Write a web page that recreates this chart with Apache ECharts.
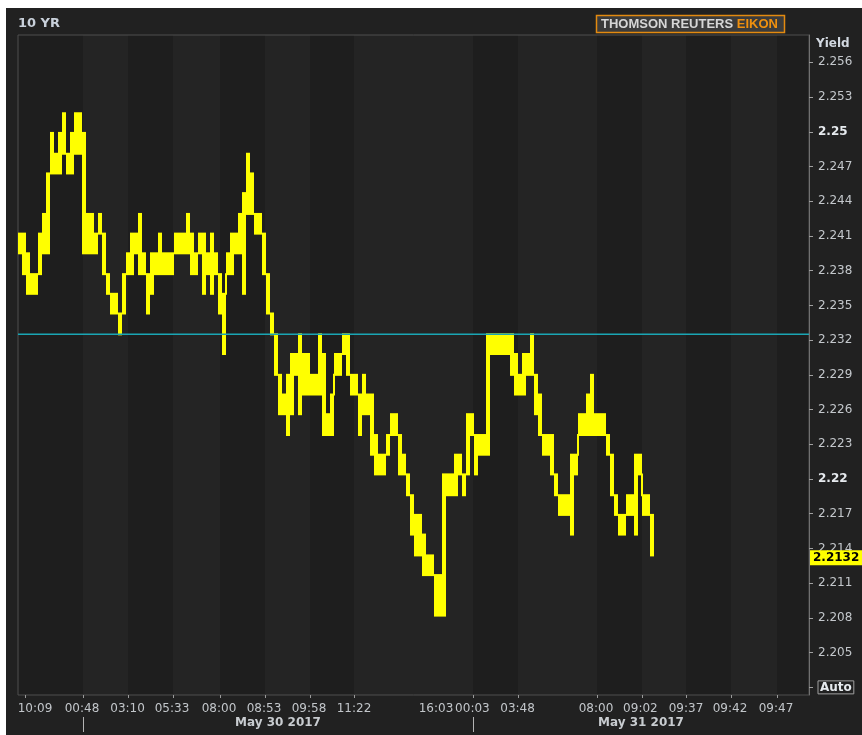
<!DOCTYPE html>
<html><head><meta charset="utf-8">
<script src="https://cdn.jsdelivr.net/npm/echarts@6/dist/echarts.min.js"></script>
<style>html,body{margin:0;padding:0;background:#fff}#c{width:862px;height:735px}</style>
</head><body><div id="c"></div>
<script>
// 10 YR yield, per trade bin: highest and lowest yield printed in the bin
const yieldHi = [
2.2412,2.2412,2.2395,2.2377,2.2377,2.2412,2.2429,2.2464,2.2499,2.2481,
2.2499,2.2516,2.2481,2.2499,2.2516,2.2516,2.2499,2.2429,2.2429,2.2412,
2.2429,2.2412,2.2377,2.2360,2.2360,2.2343,2.2377,2.2395,2.2412,2.2412,
2.2429,2.2395,2.2377,2.2395,2.2395,2.2412,2.2395,2.2395,2.2395,2.2412,
2.2412,2.2412,2.2429,2.2412,2.2395,2.2412,2.2412,2.2395,2.2412,2.2395,
2.2377,2.2360,2.2395,2.2412,2.2412,2.2429,2.2447,2.2481,2.2464,2.2429,
2.2429,2.2412,2.2377,2.2343,2.2325,2.2290,2.2273,2.2290,2.2308,2.2308,
2.2325,2.2308,2.2308,2.2290,2.2290,2.2325,2.2308,2.2256,2.2273,2.2308,
2.2308,2.2325,2.2325,2.2290,2.2290,2.2273,2.2290,2.2273,2.2273,2.2238,
2.2221,2.2221,2.2238,2.2256,2.2256,2.2238,2.2221,2.2204,2.2186,2.2169,
2.2169,2.2152,2.2134,2.2134,2.2117,2.2117,2.2204,2.2204,2.2204,2.2221,
2.2221,2.2204,2.2256,2.2256,2.2238,2.2238,2.2238,2.2325,2.2325,2.2325,
2.2325,2.2325,2.2325,2.2325,2.2308,2.2290,2.2308,2.2308,2.2325,2.2290,
2.2273,2.2238,2.2238,2.2238,2.2204,2.2186,2.2186,2.2186,2.2221,2.2221,
2.2256,2.2256,2.2273,2.2290,2.2256,2.2256,2.2256,2.2238,2.2221,2.2186,
2.2169,2.2169,2.2186,2.2186,2.2221,2.2221,2.2186,2.2186,2.2169
];
const yieldLo = [
2.2395,2.2377,2.2360,2.2360,2.2360,2.2377,2.2395,2.2395,2.2464,2.2464,
2.2464,2.2481,2.2464,2.2464,2.2481,2.2481,2.2395,2.2395,2.2395,2.2395,
2.2412,2.2377,2.2360,2.2343,2.2343,2.2325,2.2343,2.2377,2.2377,2.2395,
2.2377,2.2377,2.2343,2.2360,2.2377,2.2377,2.2377,2.2377,2.2377,2.2395,
2.2395,2.2395,2.2395,2.2377,2.2377,2.2395,2.2360,2.2377,2.2360,2.2377,
2.2343,2.2308,2.2377,2.2377,2.2395,2.2395,2.2360,2.2429,2.2429,2.2412,
2.2412,2.2377,2.2343,2.2325,2.2290,2.2256,2.2256,2.2238,2.2256,2.2290,
2.2256,2.2273,2.2273,2.2273,2.2273,2.2273,2.2238,2.2238,2.2238,2.2290,
2.2290,2.2308,2.2290,2.2273,2.2273,2.2238,2.2256,2.2256,2.2221,2.2204,
2.2204,2.2204,2.2221,2.2238,2.2238,2.2204,2.2204,2.2186,2.2152,2.2134,
2.2134,2.2117,2.2117,2.2117,2.2082,2.2082,2.2082,2.2186,2.2186,2.2186,
2.2204,2.2186,2.2204,2.2238,2.2204,2.2221,2.2221,2.2221,2.2308,2.2308,
2.2308,2.2308,2.2308,2.2290,2.2273,2.2273,2.2273,2.2290,2.2290,2.2256,
2.2238,2.2221,2.2221,2.2204,2.2186,2.2169,2.2169,2.2169,2.2152,2.2204,
2.2238,2.2238,2.2238,2.2238,2.2238,2.2238,2.2238,2.2221,2.2186,2.2169,
2.2152,2.2152,2.2169,2.2169,2.2152,2.2204,2.2169,2.2169,2.2134
];
const prevClose = 2.2325;
const lastYield = 2.2132;
const lastYieldLabel = '2.2132';

const yTickValues = [2.202,2.205,2.208,2.211,2.214,2.217,2.220,2.223,2.226,2.229,2.232,2.235,2.238,2.241,2.244,2.247,2.250,2.253,2.256];
const yTickLabels = ['Auto','2.205','2.208','2.211','2.214','2.217','2.22','2.223','2.226','2.229','2.232','2.235','2.238','2.241','2.244','2.247','2.25','2.253','2.256'];

const xMax = 197.75;
const xTickPos = [1.75,16.25,27.5,38.75,50.5,61.75,73,84,113.75,125,144.75,156,167,178.25,189.75];
const xLabelPos = [4.25,16,27.4,38.5,50.25,61.5,72.75,84,104.5,113.6,124.9,144.5,155.6,167,178,189.5];
const xLabels = ['10:09','00:48','03:10','05:33','08:00','08:53','09:58','11:22','16:03','00:03','03:48','08:00','09:02','09:37','09:42','09:47'];
const dayLabels = ['May 30 2017','May 31 2017'];
const dayLabelPos = [65, 155.75];
const dayBreakPos = [16.25, 113.75];
const bandEdges = [0,16.25,27.5,38.75,50.5,61.75,73,84,113.75,125,144.75,156,167,178.25,189.75,197.75];

const FF = 'DejaVu Sans';
const chart = echarts.init(document.getElementById('c'));

const traceData = yieldHi.map((h, i) => [i, h, yieldLo[i]]);
const bandData = bandEdges.slice(0, -1).map((e, i) => [e, bandEdges[i + 1], i % 2]);

function findIdx(arr, v) {
  let best = 0, bd = Infinity;
  arr.forEach((a, i) => { const d = Math.abs(a - v); if (d < bd) { bd = d; best = i; } });
  return best;
}

chart.setOption({
  animation: false,
  backgroundColor: '#ffffff',
  title: {
    text: '10 YR', left: 18, top: 17, padding: 0,
    textStyle: { color: '#c8d0da', fontSize: 13, fontWeight: 'bold', fontFamily: FF }
  },
  graphic: [
    { type: 'rect', z: -10, shape: { x: 6, y: 8, width: 856, height: 727 }, style: { fill: '#212121' } },
    { type: 'rect', z: 10, shape: { x: 596.5, y: 15.5, width: 188, height: 17 }, style: { fill: '#3b3b3b', stroke: '#e38a10', lineWidth: 1.5 } },
    { type: 'text', z: 11, x: 601, y: 24.5, style: {
        text: '{a|THOMSON REUTERS }{b|EIKON}', verticalAlign: 'middle',
        rich: {
          a: { fill: '#d6d6d6', fontSize: 13, fontWeight: 'bold', fontFamily: 'Liberation Sans' },
          b: { fill: '#f0900e', fontSize: 13, fontWeight: 'bold', fontFamily: 'Liberation Sans' }
        } } }
  ],
  grid: { left: 18, right: 53, top: 35, bottom: 40, show: true, z: 2, borderColor: '#4f4f4f', borderWidth: 1, backgroundColor: 'transparent' },
  xAxis: [{
    type: 'value', min: 0, max: xMax, z: 3,
    axisLine: { show: false, onZero: false }, splitLine: { show: false },
    axisTick: { show: true, customValues: xTickPos, length: 3, lineStyle: { color: '#9a9a9a' } },
    axisLabel: { customValues: xLabelPos, margin: 8, color: '#c2c6ca', fontSize: 12, fontFamily: FF,
      formatter: v => xLabels[findIdx(xLabelPos, v)] }
  }, {
    type: 'value', min: 0, max: xMax, position: 'bottom', offset: 22, z: 3,
    axisLine: { show: false, onZero: false }, splitLine: { show: false },
    axisTick: { show: true, customValues: dayBreakPos, length: 15, lineStyle: { color: '#b4b4b4' } },
    axisLabel: { customValues: dayLabelPos, margin: 0, color: '#c8ccd0', fontSize: 12, fontWeight: 'bold', fontFamily: FF,
      formatter: v => dayLabels[findIdx(dayLabelPos, v)] }
  }],
  yAxis: {
    type: 'value', position: 'right', min: 2.20134, max: 2.25836, z: 3,
    name: 'Yield', nameLocation: 'end', nameGap: -9,
    nameTextStyle: { color: '#d2d8e0', fontWeight: 'bold', fontSize: 12, fontFamily: FF, align: 'left', verticalAlign: 'middle', padding: [0, 0, 0, 7] },
    axisLine: { show: true, onZero: false, lineStyle: { color: '#707070' } },
    axisTick: { show: true, customValues: yTickValues, length: 4, lineStyle: { color: '#a0a0a0' } },
    splitLine: { show: false },
    axisLabel: {
      customValues: yTickValues, margin: 9, color: '#c4c8cc', fontSize: 12, fontFamily: FF,
      formatter: v => {
        const i = findIdx(yTickValues, v);
        const lab = yTickLabels[i];
        if (lab === 'Auto') return '{auto|Auto}';
        if (lab.length === 4) return '{b|' + lab + '}';
        return lab;
      },
      rich: {
        b: { fontWeight: 'bold', color: '#e6eaee', fontSize: 12, fontFamily: FF },
        auto: { fontWeight: 'bold', color: '#e6eaee', fontSize: 12, fontFamily: FF, borderColor: '#a0a0a0', borderWidth: 1, padding: [1, 2, 0, 2] }
      }
    }
  },
  series: [{
    type: 'custom', name: 'bands', z: 1, silent: true,
    data: bandData,
    renderItem: (params, api) => {
      const cs = params.coordSys;
      const x0 = api.coord([api.value(0), 2.22])[0];
      const x1 = api.coord([api.value(1), 2.22])[0];
      return { type: 'rect', shape: { x: x0, y: cs.y, width: x1 - x0, height: cs.height },
        style: { fill: api.value(2) ? '#242424' : '#1e1e1e' } };
    }
  }, {
    type: 'custom', name: '10 YR', z: 5, silent: true,
    data: traceData,
    renderItem: (params, api) => {
      const i = api.value(0), hi = api.value(1), lo = api.value(2);
      const a = api.coord([i, hi]), b = api.coord([i + 1, lo]);
      const children = [{ type: 'rect', shape: { x: a[0], y: a[1] - 1, width: b[0] - a[0], height: b[1] - a[1] + 2 }, style: { fill: '#ffff00' } }];
      if (i > 0) {
        const ph = yieldHi[i - 1], pl = yieldLo[i - 1];
        let y1 = null, y2 = null;
        if (pl > hi) { y1 = pl; y2 = hi; } else if (ph < lo) { y1 = ph; y2 = lo; }
        if (y1 !== null) {
          const p = api.coord([i, y1]), q = api.coord([i, y2]);
          children.push({ type: 'rect', shape: { x: a[0] - 1, y: Math.min(p[1], q[1]) - 1, width: 2, height: Math.abs(q[1] - p[1]) + 2 }, style: { fill: '#ffff00' } });
        }
      }
      return { type: 'group', children };
    }
  }, {
    type: 'line', name: 'prev close', z: 6, silent: true, symbol: 'none',
    data: [[0, prevClose], [xMax, prevClose]],
    lineStyle: { color: '#1aa6b4', width: 1.5 }
  }, {
    type: 'custom', name: 'last', z: 7, silent: true, clip: false,
    data: [[xMax, lastYield]],
    renderItem: (params, api) => {
      const p = api.coord([api.value(0), api.value(1)]);
      return { type: 'text', x: p[0] + 1, y: p[1], style: {
        text: lastYieldLabel, fill: '#000', font: 'bold 12px "DejaVu Sans"',
        verticalAlign: 'middle', align: 'left', backgroundColor: '#ffff00', padding: [2, 3, 1, 3] } };
    }
  }]
});
</script></body></html>
